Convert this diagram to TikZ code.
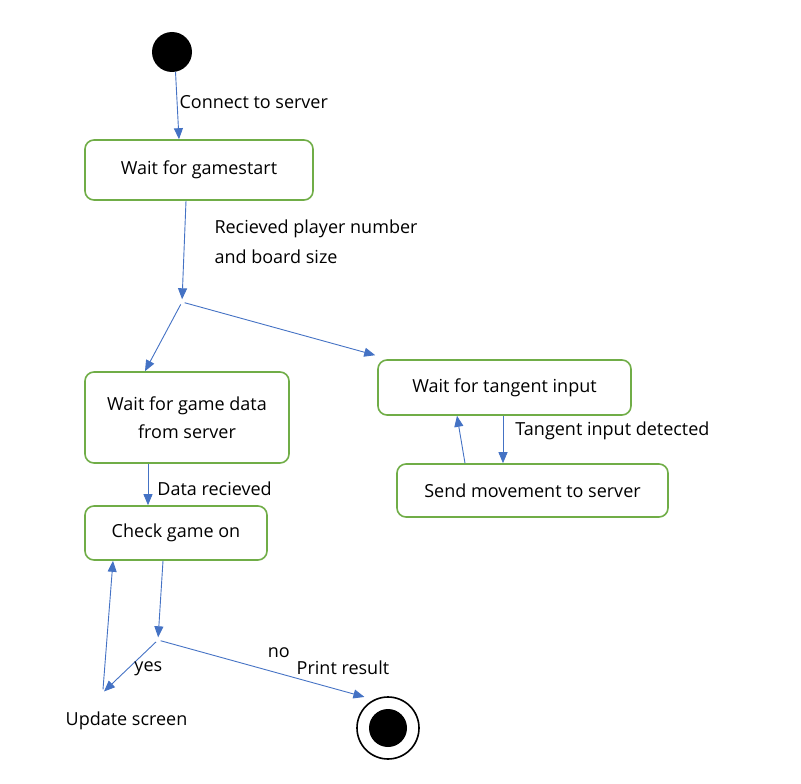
\documentclass[tikz,border=0pt]{standalone}
\usepackage{fontspec}
\setmainfont{Open Sans}
\usepackage{xcolor}
\usepackage{tikz}
\usetikzlibrary{arrows.meta}

\definecolor{boxgreen}{HTML}{70AD47}
\definecolor{flowblue}{HTML}{4472C4}

\begin{document}
\begin{tikzpicture}[
			x=1pt, y=-1pt,
			every node/.style={font=\fontsize{18}{28}\selectfont},
			state/.style={draw=boxgreen, line width=1.6pt, rounded corners=9pt, align=center},
			fork/.style={circle, inner sep=0pt, minimum size=5pt},
			flow/.style={draw=flowblue, line width=0.9pt, -{Triangle[length=11pt, width=9pt]}},
			lbl/.style={text=black, inner sep=2pt}]
			\useasboundingbox (0,0) rectangle (801,784);
			% states
			\node[circle, fill=black, minimum size=40pt, inner sep=0pt] (start) at (172,52) {};
			\node[state, minimum width=228pt, minimum height=60pt] (gamestart) at (199,170) {Wait for gamestart};
			\node[fork] (split) at (182,302) {};
			\node[state, minimum width=204pt, minimum height=91pt] (gamedata) at (187,417.5) {Wait for game data\\from server};
			\node[state, minimum width=253pt, minimum height=55pt] (tangent) at (504.5,387.5) {Wait for tangent input};
			\node[state, minimum width=271pt, minimum height=53pt] (send) at (532.5,490.5) {Send movement to server};
			\node[state, minimum width=182pt, minimum height=54pt] (check) at (176,533) {Check game on};
			\node[fork] (choice) at (158,640) {};
			\node (update) at (126.5,721) {Update screen};
			\node[circle, draw=black, line width=1.6pt, minimum size=62pt, inner sep=0pt] (finish) at (388,728) {};
			\node[circle, fill=black, minimum size=38pt, inner sep=0pt] at (finish) {};
			% transitions
			\draw[flow] (start.-80) -- node[lbl, right, pos=0.45] {Connect to server} ([xshift=-20pt]gamestart.north);
			\draw[flow] ([xshift=-13pt]gamestart.south) -- node[lbl, right, align=left, pos=0.5, xshift=28pt, yshift=8pt, font=\fontsize{18}{30}\selectfont] {Recieved player number\\and board size} (split);
			\draw[flow] (split) -- ([xshift=-42pt]gamedata.north);
			\draw[flow] (split) -- ([shift={(-2pt,4pt)}]tangent.north west);
			\draw[flow] ([xshift=-1.5pt]tangent.south) -- node[lbl, right, pos=0.32, xshift=10pt] {Tangent input detected} ([xshift=-1.5pt]tangent.south |- send.north);
			\draw[flow] ([xshift=-67.5pt]send.north) -- ([xshift=-47.5pt]tangent.south);
			\draw[flow] ([xshift=-39pt]gamedata.south) -- node[lbl, right, pos=0.6, xshift=7pt] {Data recieved} ([xshift=-39pt]gamedata.south |- check.north);
			\draw[flow] ([xshift=-13pt]check.south) -- (choice);
			\draw[flow] (choice) -- node[lbl, right, pos=0.5, xshift=2pt, yshift=-2pt] {yes} ([shift={(-22.5pt,17pt)}]update.north);
			\draw[flow] ([shift={(-23.5pt,19pt)}]update.north) -- ([xshift=-63pt]check.south);
			\draw[flow] (choice) -- node[lbl, above, pos=0.58, yshift=13pt] {no} node[lbl, above, pos=0.88, yshift=13pt, xshift=3pt] {Print result} ([shift={(-4pt,6pt)}]finish.128);
		\end{tikzpicture}
\end{document}
